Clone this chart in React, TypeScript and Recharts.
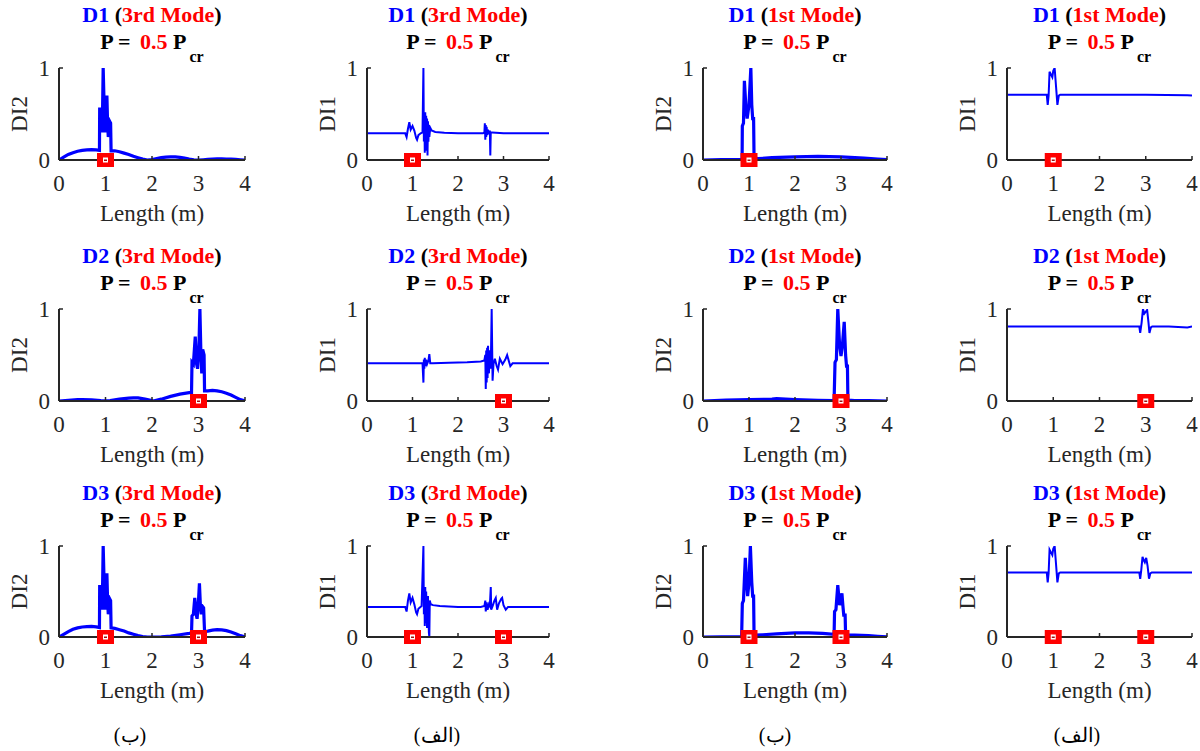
import React from 'react'
import { ComposedChart, Line, XAxis, YAxis, ReferenceDot, Label } from 'recharts'

type Pt = [number, number]

const xTicks = [0, 1, 2, 3, 4]
const yTicks = [0, 1]

// damage locations along the beam (m)
const damageD1 = [1]
const damageD2 = [3]
const damageD3 = [1, 3]

// D1, 3rd mode, DI2
const d1Mode3Di2: Pt[] = [
  [0, 0], [0.1, 0.03], [0.2, 0.06], [0.3, 0.08], [0.4, 0.095], [0.5, 0.105], [0.6, 0.11], [0.7, 0.112], [0.8, 0.11], [0.87, 0.105],
  [0.875, 0.57], [0.9, 0.5], [0.93, 0.3], [0.95, 1.0], [0.97, 0.6], [0.99, 0.3], [1.01, 0.45], [1.03, 0.7], [1.045, 0.4], [1.06, 0.25],
  [1.08, 0.3], [1.09, 0.42], [1.11, 0.4], [1.12, 0.1], [1.2, 0.1], [1.3, 0.09], [1.4, 0.075], [1.5, 0.06], [1.6, 0.04], [1.7, 0.025],
  [1.8, 0.01], [1.9, 0], [2.0, 0.005], [2.1, 0.015], [2.2, 0.025], [2.3, 0.032], [2.4, 0.035], [2.5, 0.033], [2.6, 0.028], [2.7, 0.02],
  [2.8, 0.01], [2.9, 0.003], [3.0, 0], [3.1, 0.003], [3.2, 0.007], [3.3, 0.01], [3.4, 0.012], [3.5, 0.012], [3.6, 0.011], [3.7, 0.009],
  [3.8, 0.006], [3.9, 0.003], [4, 0],
]

// D1, 3rd mode, DI1
const d1Mode3Di1: Pt[] = [
  [0, 0.29], [0.5, 0.29], [0.84, 0.29], [0.87, 0.25], [0.9, 0.34], [0.93, 0.41], [0.96, 0.33], [1.0, 0.37], [1.04, 0.32], [1.08, 0.24],
  [1.1, 0.22], [1.13, 0.27], [1.18, 0.29], [1.22, 0.3], [1.24, 1.0], [1.25, 0.2], [1.26, 0.5], [1.27, 0.08], [1.28, 0.52], [1.29, 0.1],
  [1.3, 0.48], [1.31, 0.12], [1.32, 0.45], [1.33, 0.05], [1.34, 0.42], [1.35, 0.2], [1.36, 0.38], [1.37, 0.25], [1.39, 0.35], [1.42, 0.32],
  [1.5, 0.305], [1.7, 0.295], [2.0, 0.29], [2.3, 0.29], [2.55, 0.29], [2.58, 0.3], [2.59, 0.4], [2.6, 0.22], [2.61, 0.38], [2.62, 0.25],
  [2.63, 0.36], [2.64, 0.27], [2.66, 0.33], [2.68, 0.28], [2.7, 0.32], [2.71, 0.05], [2.72, 0.3], [2.75, 0.3], [3.0, 0.29], [3.5, 0.29],
  [4, 0.29],
]

// D1, 1st mode, DI2
const d1Mode1Di2: Pt[] = [
  [0, 0], [0.4, 0.003], [0.8, 0.005], [0.85, 0.005], [0.855, 0.37], [0.88, 0.4], [0.9, 0.86], [0.93, 0.6], [0.96, 0.45], [1.0, 0.6],
  [1.04, 1.0], [1.06, 0.6], [1.08, 0.45], [1.1, 0.45], [1.11, 0.02], [1.2, 0.015], [1.5, 0.025], [2.0, 0.035], [2.5, 0.04], [3.0, 0.035],
  [3.5, 0.02], [3.8, 0.01], [4, 0.003],
]

// D1, 1st mode, DI1
const d1Mode1Di1: Pt[] = [
  [0, 0.71], [0.5, 0.71], [0.86, 0.71], [0.88, 0.6], [0.9, 0.7], [0.92, 0.96], [0.95, 0.93], [0.98, 0.9], [1.0, 0.97], [1.03, 1.0],
  [1.06, 0.8], [1.09, 0.6], [1.12, 0.7], [1.15, 0.71], [2, 0.71], [3, 0.71], [3.9, 0.705], [4, 0.7],
]

// D2, 3rd mode, DI2
const d2Mode3Di2: Pt[] = [
  [0, 0], [0.2, 0.008], [0.4, 0.014], [0.5, 0.015], [0.7, 0.012], [0.9, 0.004], [1.0, 0.002], [1.1, 0.005], [1.3, 0.02], [1.5, 0.032],
  [1.6, 0.035], [1.7, 0.033], [1.85, 0.02], [2.0, 0.005], [2.05, 0.002], [2.2, 0.02], [2.4, 0.05], [2.6, 0.075], [2.8, 0.09], [2.85, 0.09],
  [2.86, 0.42], [2.89, 0.4], [2.93, 0.7], [2.96, 0.4], [2.98, 0.35], [3.01, 0.6], [3.03, 1.0], [3.05, 0.55], [3.07, 0.3], [3.09, 0.56],
  [3.12, 0.5], [3.13, 0.11], [3.2, 0.11], [3.3, 0.115], [3.4, 0.11], [3.5, 0.1], [3.6, 0.085], [3.7, 0.065], [3.8, 0.04], [3.9, 0.015],
  [4, 0],
]

// D2, 3rd mode, DI1
const d2Mode3Di1: Pt[] = [
  [0, 0.41], [0.5, 0.41], [1.0, 0.41], [1.22, 0.41], [1.24, 0.2], [1.25, 0.45], [1.26, 0.35], [1.27, 0.47], [1.28, 0.38], [1.3, 0.45],
  [1.32, 0.4], [1.35, 0.44], [1.37, 0.51], [1.39, 0.41], [1.45, 0.41], [1.8, 0.415], [2.2, 0.42], [2.5, 0.43], [2.58, 0.44], [2.6, 0.5],
  [2.61, 0.13], [2.62, 0.55], [2.63, 0.2], [2.64, 0.58], [2.65, 0.25], [2.66, 0.6], [2.68, 0.3], [2.7, 0.55], [2.72, 0.35], [2.74, 1.0],
  [2.76, 0.22], [2.78, 0.4], [2.81, 0.46], [2.85, 0.38], [2.88, 0.34], [2.92, 0.46], [2.95, 0.43], [2.98, 0.4], [3.04, 0.45], [3.08, 0.5],
  [3.12, 0.43], [3.15, 0.38], [3.2, 0.41], [3.5, 0.41], [4, 0.41],
]

// D2, 1st mode, DI2
const d2Mode1Di2: Pt[] = [
  [0, 0], [0.5, 0.01], [1.0, 0.015], [1.5, 0.02], [1.6, 0.025], [2.0, 0.015], [2.5, 0.008], [2.85, 0.005], [2.87, 0.42], [2.9, 0.45],
  [2.93, 1.0], [2.97, 0.6], [3.0, 0.49], [3.03, 0.6], [3.07, 0.86], [3.1, 0.5], [3.12, 0.38], [3.14, 0.38], [3.15, 0.01], [3.3, 0.005],
  [3.6, 0.003], [4, 0],
]

// D2, 1st mode, DI1
const d2Mode1Di1: Pt[] = [
  [0, 0.81], [1, 0.81], [2, 0.81], [2.86, 0.81], [2.88, 0.74], [2.91, 0.85], [2.94, 1.0], [2.97, 0.95], [3.0, 0.97], [3.03, 0.99],
  [3.06, 0.85], [3.08, 0.74], [3.11, 0.8], [3.14, 0.81], [3.5, 0.81], [3.9, 0.8], [4, 0.81],
]

// D3, 3rd mode, DI2
const d3Mode3Di2: Pt[] = [
  [0, 0], [0.1, 0.03], [0.2, 0.06], [0.3, 0.085], [0.4, 0.1], [0.5, 0.11], [0.6, 0.115], [0.7, 0.116], [0.8, 0.112], [0.87, 0.105],
  [0.875, 0.57], [0.9, 0.5], [0.93, 0.3], [0.95, 1.0], [0.97, 0.6], [0.99, 0.3], [1.01, 0.45], [1.03, 0.7], [1.045, 0.4], [1.06, 0.25],
  [1.08, 0.3], [1.09, 0.42], [1.11, 0.4], [1.12, 0.1], [1.2, 0.095], [1.3, 0.08], [1.4, 0.065], [1.5, 0.045], [1.6, 0.03], [1.7, 0.015],
  [1.8, 0.005], [1.9, 0], [2.0, 0], [2.2, 0.003], [2.4, 0.01], [2.6, 0.025], [2.8, 0.04], [2.85, 0.045], [2.86, 0.23], [2.89, 0.25],
  [2.92, 0.43], [2.95, 0.25], [2.97, 0.2], [3.0, 0.4], [3.02, 0.59], [3.04, 0.35], [3.06, 0.25], [3.08, 0.34], [3.11, 0.32], [3.13, 0.06],
  [3.2, 0.065], [3.3, 0.075], [3.4, 0.08], [3.5, 0.078], [3.6, 0.07], [3.7, 0.055], [3.8, 0.035], [3.9, 0.015], [4, 0],
]

// D3, 3rd mode, DI1
const d3Mode3Di1: Pt[] = [
  [0, 0.33], [0.5, 0.33], [0.84, 0.33], [0.87, 0.28], [0.9, 0.4], [0.93, 0.48], [0.96, 0.38], [1.0, 0.43], [1.04, 0.36], [1.08, 0.27],
  [1.1, 0.25], [1.13, 0.31], [1.2, 0.34], [1.24, 1.0], [1.25, 0.25], [1.26, 0.55], [1.27, 0.12], [1.28, 0.55], [1.29, 0.15], [1.3, 0.5],
  [1.32, 0.1], [1.34, 0.45], [1.36, 0.05], [1.37, 0.0], [1.38, 0.4], [1.4, 0.36], [1.45, 0.35], [1.6, 0.34], [2.0, 0.33], [2.5, 0.33],
  [2.58, 0.34], [2.6, 0.4], [2.61, 0.28], [2.63, 0.38], [2.65, 0.3], [2.68, 0.36], [2.7, 0.34], [2.72, 0.55], [2.73, 0.3], [2.76, 0.34],
  [2.8, 0.4], [2.83, 0.43], [2.86, 0.3], [2.9, 0.37], [2.95, 0.42], [2.97, 0.43], [3.0, 0.35], [3.05, 0.3], [3.1, 0.33], [3.5, 0.33],
  [4, 0.33],
]

// D3, 1st mode, DI2
const d3Mode1Di2: Pt[] = [
  [0, 0], [0.4, 0.003], [0.84, 0.005], [0.855, 0.37], [0.88, 0.4], [0.92, 0.87], [0.95, 0.6], [0.97, 0.45], [1.0, 0.6], [1.03, 1.0],
  [1.06, 0.6], [1.08, 0.45], [1.1, 0.45], [1.11, 0.02], [1.3, 0.025], [1.6, 0.035], [2.0, 0.045], [2.3, 0.045], [2.6, 0.04], [2.85, 0.03],
  [2.86, 0.28], [2.89, 0.3], [2.93, 0.57], [2.96, 0.4], [2.97, 0.35], [3.0, 0.4], [3.02, 0.48], [3.04, 0.35], [3.06, 0.24], [3.09, 0.24],
  [3.1, 0.02], [3.3, 0.02], [3.6, 0.015], [3.8, 0.008], [4, 0.003],
]

// D3, 1st mode, DI1
const d3Mode1Di1: Pt[] = [
  [0, 0.71], [0.5, 0.71], [0.86, 0.71], [0.88, 0.6], [0.9, 0.7], [0.92, 0.96], [0.95, 0.93], [0.98, 0.9], [1.0, 0.97], [1.03, 1.0],
  [1.06, 0.8], [1.09, 0.6], [1.12, 0.7], [1.15, 0.71], [2, 0.71], [2.86, 0.71], [2.88, 0.64], [2.9, 0.72], [2.93, 0.88], [2.96, 0.84],
  [2.98, 0.82], [3.01, 0.87], [3.04, 0.78], [3.07, 0.64], [3.1, 0.7], [3.13, 0.71], [3.5, 0.71], [4, 0.71],
]

const captions = ['(ب)', '(الف)', '(ب)', '(الف)']

const BLUE = '#0000ff'
const RED = '#ff0000'
const INK = '#262626'
const SERIF = '"Liberation Serif", "Times New Roman", "DejaVu Serif", serif'

// plot-area edges in page pixels
const colLeft = [59, 367, 703, 1007]
const colRight = [245, 549, 887, 1192]
const rowTop = [68, 309, 546]
const rowBottom = [160, 401, 637]
const captionX = [130, 437, 775, 1077]

const panels = [
  { row: 0, col: 0, d: 'D1', mode: '3rd Mode', yLabel: 'DI2', pts: d1Mode3Di2, dmg: damageD1 },
  { row: 0, col: 1, d: 'D1', mode: '3rd Mode', yLabel: 'DI1', pts: d1Mode3Di1, dmg: damageD1 },
  { row: 0, col: 2, d: 'D1', mode: '1st Mode', yLabel: 'DI2', pts: d1Mode1Di2, dmg: damageD1 },
  { row: 0, col: 3, d: 'D1', mode: '1st Mode', yLabel: 'DI1', pts: d1Mode1Di1, dmg: damageD1 },
  { row: 1, col: 0, d: 'D2', mode: '3rd Mode', yLabel: 'DI2', pts: d2Mode3Di2, dmg: damageD2 },
  { row: 1, col: 1, d: 'D2', mode: '3rd Mode', yLabel: 'DI1', pts: d2Mode3Di1, dmg: damageD2 },
  { row: 1, col: 2, d: 'D2', mode: '1st Mode', yLabel: 'DI2', pts: d2Mode1Di2, dmg: damageD2 },
  { row: 1, col: 3, d: 'D2', mode: '1st Mode', yLabel: 'DI1', pts: d2Mode1Di1, dmg: damageD2 },
  { row: 2, col: 0, d: 'D3', mode: '3rd Mode', yLabel: 'DI2', pts: d3Mode3Di2, dmg: damageD3 },
  { row: 2, col: 1, d: 'D3', mode: '3rd Mode', yLabel: 'DI1', pts: d3Mode3Di1, dmg: damageD3 },
  { row: 2, col: 2, d: 'D3', mode: '1st Mode', yLabel: 'DI2', pts: d3Mode1Di2, dmg: damageD3 },
  { row: 2, col: 3, d: 'D3', mode: '1st Mode', yLabel: 'DI1', pts: d3Mode1Di1, dmg: damageD3 },
]

function DamageMark(props: any) {
  const { cx, cy } = props
  if (cx == null || cy == null) return null
  return (
    <g>
      <rect x={cx - 8.5} y={cy - 7} width={17} height={14} fill={RED} />
      <rect x={cx - 2.5} y={cy - 2.5} width={5} height={5} fill="#fff" />
      <rect x={cx - 1.5} y={cy - 0.5} width={3} height={1.5} fill="#a01010" />
    </g>
  )
}

function Panel({ p }: { p: (typeof panels)[number] }) {
  const left = colLeft[p.col]
  const right = colRight[p.col]
  const top = rowTop[p.row]
  const bottom = rowBottom[p.row]
  const pw = right - left
  const ph = bottom - top
  const cx = (left + right) / 2
  const data = p.pts.map(([x, y]) => ({ x, y }))
  const tickStyle = { fontSize: 23, fill: INK, fontFamily: SERIF }

  return (
    <>
      <div
        style={{
          position: 'absolute', left: cx - 150, width: 300, top: top - 67,
          textAlign: 'center', fontWeight: 'bold', fontSize: 22, lineHeight: '27px',
          whiteSpace: 'nowrap', fontFamily: SERIF, color: '#000',
        }}
      >
        <div>
          <span style={{ color: BLUE }}>{p.d}</span> (<span style={{ color: RED }}>{p.mode}</span>)
        </div>
        <div>
          P = <span style={{ color: RED, marginLeft: 4 }}>0.5</span> P
          <span style={{ fontSize: 16, position: 'relative', top: 13, marginLeft: 3 }}>cr</span>
        </div>
      </div>
      <div style={{ position: 'absolute', left: left - 60, top: top - 60 }}>
        <ComposedChart
          width={pw + 72}
          height={ph + 130}
          data={data}
          margin={{ top: 60, right: 12, left: 0, bottom: 0 }}
        >
          <XAxis
            dataKey="x"
            type="number"
            domain={[0, 4]}
            ticks={xTicks}
            interval={0}
            allowDataOverflow
            height={70}
            axisLine={{ stroke: INK, strokeWidth: 2 }}
            tickLine={{ stroke: INK, strokeWidth: 1.5 }}
            tickSize={-4}
            tickMargin={19}
            tick={tickStyle}
          >
            <Label
              value="Length (m)"
              position="insideBottom"
              offset={9}
              style={{ fontSize: 23, fill: INK, fontFamily: SERIF }}
            />
          </XAxis>
          <YAxis
            type="number"
            domain={[0, 1]}
            ticks={yTicks}
            interval={0}
            allowDataOverflow
            width={60}
            axisLine={{ stroke: INK, strokeWidth: 2 }}
            tickLine={{ stroke: INK, strokeWidth: 1.5 }}
            tickSize={-4}
            tickMargin={13}
            tick={tickStyle}
          >
            <Label
              value={p.yLabel}
              angle={-90}
              position="insideLeft"
              offset={20}
              style={{ fontSize: 23, fill: INK, fontFamily: SERIF, textAnchor: 'middle' }}
            />
          </YAxis>
          <Line
            type="linear"
            dataKey="y"
            stroke={BLUE}
            strokeWidth={p.yLabel === 'DI2' ? 3.2 : 2}
            dot={false}
            activeDot={false}
            isAnimationActive={false}
          />
          {p.dmg.map((d) => (
            <ReferenceDot key={d} x={d} y={0} r={7} shape={DamageMark} ifOverflow="visible" />
          ))}
        </ComposedChart>
      </div>
    </>
  )
}

export default function App() {
  return (
    <div
      style={{
        position: 'absolute', left: 0, top: 0, width: 1200, height: 751,
        background: '#fff', overflow: 'hidden', fontFamily: SERIF,
      }}
    >
      {panels.map((p) => (
        <Panel key={`${p.row}-${p.col}`} p={p} />
      ))}
      {captions.map((c, i) => (
        <div
          key={i}
          style={{
            position: 'absolute', left: captionX[i] - 60, width: 120, top: 722,
            textAlign: 'center', fontSize: 20, lineHeight: '26px', color: '#000',
          }}
        >
          {c}
        </div>
      ))}
    </div>
  )
}
